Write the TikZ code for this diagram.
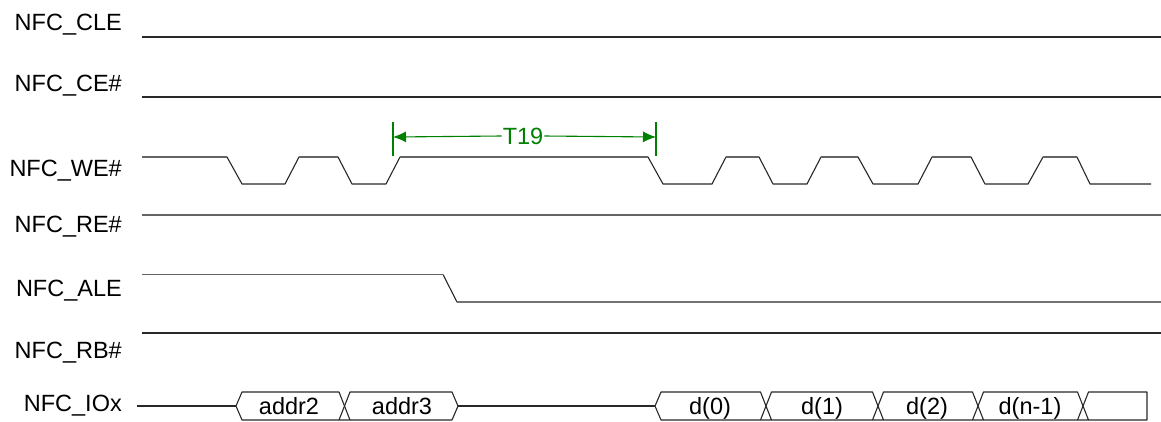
\documentclass[tikz,border=0pt]{standalone}
\usepackage{fontspec}
\setmainfont{Liberation Sans}
\usetikzlibrary{arrows.meta}
\definecolor{tgreen}{RGB}{0,128,0}
\definecolor{wire}{RGB}{40,40,40}
\definecolor{wirehi}{RGB}{100,100,100}
\begin{document}
\begin{tikzpicture}[x=1pt,y=-1pt,
  sig/.style={draw=wire,line width=1.1pt,line join=round},
  sighi/.style={draw=wirehi,line width=1.4pt},
  lbl/.style={anchor=base east,inner sep=0pt,font=\fontsize{23.5}{28}\selectfont},
  bustxt/.style={anchor=base,inner sep=0pt,font=\fontsize{23.5}{28}\selectfont},
  meas/.style={draw=tgreen,line width=1.1pt},
  mtxt/.style={inner sep=1pt,text=tgreen,font=\fontsize{23.5}{28}\selectfont}]
\useasboundingbox (0,0) rectangle (1161,421);
\fill[white] (0,0) rectangle (1161,421);

% labels
\node[lbl] (lcle) at (122,30) {NFC\_CLE};
\node[lbl] (lce) at (122,91) {NFC\_CE\#};
\node[lbl] (lwe) at (122,176.5) {NFC\_WE\#};
\node[lbl] (lre) at (122,232.5) {NFC\_RE\#};
\node[lbl] (lale) at (122,296) {NFC\_ALE};
\node[lbl] (lrb) at (122,358.5) {NFC\_RB\#};
\node[lbl] (lio) at (122,411.5) {NFC\_IOx};

% static lines
\draw[sig] (142,37) -- (1161,37);
\draw[sig] (142,97) -- (1161,97);
\draw[sighi] (142,215) -- (1161,215);
\draw[sig] (142,333) -- (1161,333);

% ALE
\draw[sighi] (142,274.5) -- (443,274.5);
\draw[sig] (443,274.5) -- (457,302) -- (1161,302);

% WE#
\draw[sig] (142,157) -- (227,157) -- (242,184) -- (285,184) -- (299,157)
  -- (338,157) -- (352,184) -- (386,184) -- (400,157) -- (648,157)
  -- (663,184) -- (712,184) -- (726,157) -- (759,157) -- (773,184)
  -- (807,184) -- (821,157) -- (858,157) -- (873,184) -- (918,184)
  -- (932,157) -- (971,157) -- (985,184) -- (1028,184) -- (1043,157)
  -- (1077,157) -- (1090,184) -- (1151,184);
\foreach \a/\b in {142/227,299/338,400/648,726/759,821/858,932/971,1043/1077}
  \draw[sighi] (\a,157) -- (\b,157);

% T19 measurement
\draw[meas] (393,122) -- (393,156);
\draw[meas] (656,122) -- (656,156);
\node[mtxt] (t19) at (523,136) {T19};
\draw[meas,-{Latex[length=13pt,width=11pt]}] (t19.west) -- (393,137);
\draw[meas,-{Latex[length=13pt,width=11pt]}] (t19.east) -- (656,137);

% IOx bus
\draw[sig] (137,406) -- (236,406);
\draw[sig] (236,406) -- (242,392) -- (339,392) -- (350,420) -- (242,420) -- cycle;
\draw[sig] (339,420) -- (350,392) -- (452,392) -- (458,406) -- (452,420) -- (350,420);
\draw[sig] (458,406) -- (655,406);
\draw[sig] (655,406) -- (661,392) -- (760.5,392) -- (771.5,420) -- (661,420) -- cycle;
\draw[sig] (760.5,420) -- (771.5,392) -- (872.5,392) -- (883.5,420) -- (771.5,420);
\draw[sig] (872.5,420) -- (883.5,392) -- (972.5,392) -- (983.5,420) -- (883.5,420);
\draw[sig] (972.5,420) -- (983.5,392) -- (1077.5,392) -- (1088.5,420) -- (983.5,420);
\draw[sig] (1077.5,420) -- (1088.5,392) -- (1147,392) -- (1147,420) -- (1088.5,420);

\node[bustxt] (a2) at (289,414.5) {addr2};
\node[bustxt] (a3) at (402,414.5) {addr3};
\node[bustxt] (d0) at (710,414.5) {d(0)};
\node[bustxt] (d1) at (822,414.5) {d(1)};
\node[bustxt] (d2) at (927,414.5) {d(2)};
\node[bustxt] (dn) at (1030,414.5) {d(n-1)};
\end{tikzpicture}
\end{document}
